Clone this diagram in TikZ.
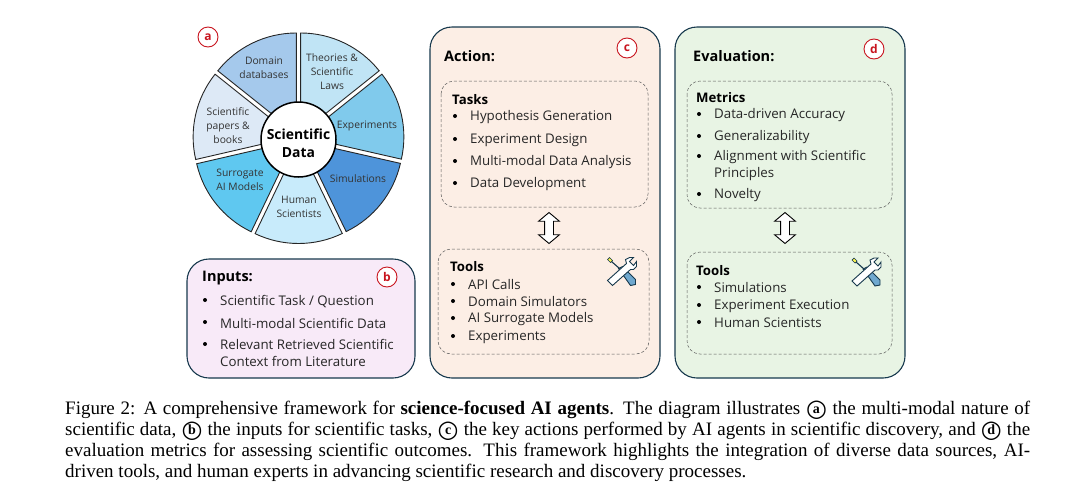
\documentclass[tikz,border=0pt]{standalone}
\usepackage{fontspec}
\setmainfont{Liberation Serif}
\newfontfamily\diagfont{Open Sans}
\newfontfamily\ringfont{DejaVu Sans}
\usetikzlibrary{shapes.arrows}
\definecolor{rimcol}{HTML}{17394D}
\definecolor{badgecol}{HTML}{C8141E}
\definecolor{inputcol}{HTML}{F8EAF8}
\definecolor{actioncol}{HTML}{FCEEE5}
\definecolor{evalcol}{HTML}{E8F4E4}
\definecolor{toolcol}{HTML}{6FA8CF}
\definecolor{domaincol}{HTML}{A5C9EC}
\definecolor{theorycol}{HTML}{C0E4F5}
\definecolor{expcol}{HTML}{80CAEC}
\definecolor{simcol}{HTML}{4E94DA}
\definecolor{humancol}{HTML}{C8EBFB}
\definecolor{surrcol}{HTML}{5FC8F0}
\definecolor{papercol}{HTML}{DDE9F6}
\newcommand{\letterring}[1]{\ooalign{\hfil\raisebox{1.3pt}{\fontsize{14}{14}\selectfont\bfseries #1}\hfil\crcr\raisebox{-1.5pt}{\ringfont\fontsize{24}{24}\selectfont\char"25CB}}}
\newcommand{\toolicon}[2]{%
\begin{scope}[shift={(#1,#2)}]
\draw[rimcol,line width=.9pt,fill=toolcol] (-3,-3) -- (1,-5) -- (14,8) -- (14,13) -- (9,14) -- cycle;
\draw[rimcol,line width=.9pt,fill=white] (-14,9) -- (5,-8) -- (4,-12) -- (8,-14) -- (12,-14) -- (8,-10) -- (12,-6) -- (15,-10) -- (15,-5) -- (12,-2) -- (9,-2) -- (-9,14) -- cycle;
\draw[rimcol,line width=1.1pt] (-2,-3) -- (-10,-10);
\draw[rimcol,line width=.7pt,fill=yellow!70!white] (-9,-11) -- (-11,-9) -- (-14,-12) -- (-12,-14) -- cycle;
\end{scope}}
\tikzset{
  panel/.style={draw=rimcol,line width=1.1pt,rounded corners=22pt},
  subpanel/.style={draw=black!65,densely dashed,line width=.5pt,rounded corners=13pt},
  badge/.style={circle,draw=badgecol,line width=.9pt,fill=white,inner sep=0pt,minimum size=20pt,text=badgecol,font=\diagfont\fontsize{12}{12}\selectfont\bfseries},
  headtxt/.style={anchor=west,inner sep=0pt,font=\diagfont\fontsize{14.5}{17}\selectfont\bfseries},
  subtxt/.style={anchor=west,inner sep=0pt,yshift=-1pt,font=\diagfont\fontsize{13.2}{15}\selectfont\bfseries},
  itemtxt/.style={anchor=west,inner sep=0pt,yshift=-1pt,text=black!85,font=\diagfont\fontsize{13.3}{17}\selectfont,align=left},
  dot/.style={circle,fill=black,inner sep=0pt,minimum size=4pt},
  wedgetxt/.style={inner sep=0pt,align=center,text=black!80,font=\diagfont\fontsize{10.3}{14}\selectfont},
  swaparrow/.style={double arrow,draw=black,fill=white,line width=.9pt,rotate=90,minimum height=31pt,minimum width=20pt,double arrow head extend=6pt,inner sep=0pt,double arrow tip angle=100}
}
\begin{document}
\begin{tikzpicture}[x=1pt,y=-1pt]
\useasboundingbox (0,0) rectangle (1080,501);
% wheel
\begin{scope}[shift={(298.5,138)},y=1pt]
\foreach \a/\b/\col in {90/141.4/domaincol,38.6/90/theorycol,-12.8/38.6/expcol,-64.2/-12.8/simcol,-115.6/-64.2/humancol,-167/-115.6/surrcol,141.4/193/papercol}
  \draw[black!85,line width=.9pt,fill=\col]
    ({5*cos((\a+\b)/2)},{5*sin((\a+\b)/2)}) -- ++({100.5*cos(\a)},{100.5*sin(\a)})
    arc [start angle=\a, end angle=\b, radius=100.5pt] -- cycle;
\end{scope}
\node[circle,draw=black,line width=1.5pt,fill=white,minimum size=75pt,inner sep=0pt,align=center,font=\diagfont\fontsize{13.9}{18}\selectfont\bfseries] (hub) at (298.5,139.5) {\rule{0pt}{18pt}Scientific\\Data};
\node[wedgetxt] (domain) at (264,68) {Domain\\databases};
\node[wedgetxt] (theories) at (332,72) {Theories \&\\Scientific\\Laws};
\node[wedgetxt] (experiments) at (367,126) {Experiments};
\node[wedgetxt] (simulations) at (358,179) {Simulations};
\node[wedgetxt] (humans) at (299,207) {Human\\Scientists};
\node[wedgetxt] (surrogate) at (240,179.5) {Surrogate\\AI Models};
\node[wedgetxt] (papers) at (228,126) {Scientific\\papers \&\\books};
\node[badge] (a) at (208,37) {a};
% inputs
\draw[panel,fill=inputcol] (187,259) rectangle (415,378);
\node[headtxt] (inputs) at (202,278) {Inputs:};
\node[badge] (b) at (387,277) {b};
\foreach \y/\t in {301/{Scientific Task / Question},322/Multi-modal Scientific Data,352/Relevant Retrieved Scientific\\Context from Literature} {
  \node[dot] at (205,{\y==352 ? 344 : (\y==301 ? 300 : \y)}) {};
  \node[itemtxt] at (220,\y) {\t};
}
% action
\draw[panel,fill=actioncol] (430,27) rectangle (660,378);
\node[headtxt] (action) at (444,56) {Action:};
\node[badge] (c) at (627,48) {c};
\draw[subpanel] (441,81) rectangle (648,207);
\node[subtxt] (tasks) at (452,99) {Tasks};
\foreach \y/\t in {116/Hypothesis Generation,139/Experiment Design,161/Multi-modal Data Analysis,183/Data Development} {
  \node[dot] at (455,\y) {};
  \node[itemtxt] at (470,\y) {\t};
}
\node[swaparrow] (actswap) at (549,228) {\rule{0pt}{8pt}};
\draw[subpanel] (438,249) rectangle (649,354);
\node[subtxt] (acttools) at (450,266) {Tools};
\foreach \y/\t in {284/API Calls,301/Domain Simulators,318/AI Surrogate Models,336/Experiments} {
  \node[dot] at (453,\y) {};
  \node[itemtxt] at (468,\y) {\t};
}
\toolicon{621.5}{271.5}
% evaluation
\draw[panel,fill=evalcol] (675,27) rectangle (905,378);
\node[headtxt] (evaluation) at (693,56) {Evaluation:};
\node[badge] (d) at (874,49) {d};
\draw[subpanel] (687,81) rectangle (892,208);
\node[subtxt] (metrics) at (696,97) {Metrics};
\foreach \y/\t in {114/Data-driven Accuracy,136/Generalizability,165/Alignment with Scientific\\Principles,194/Novelty} {
  \node[dot] at (699,{\y==165 ? 156 : \y}) {};
  \node[itemtxt] at (714,\y) {\t};
}
\node[swaparrow] (evalswap) at (785,228) {\rule{0pt}{8pt}};
\draw[subpanel] (687,252) rectangle (892,354);
\node[subtxt] (evaltools) at (696,270) {Tools};
\foreach \y/\t in {287/Simulations,305/Experiment Execution,322/Human Scientists} {
  \node[dot] at (699,\y) {};
  \node[itemtxt] at (714,\y) {\t};
}
\toolicon{866}{272}
% caption
\node[anchor=north west,inner sep=0pt,text width=965pt,align=justify,font=\fontsize{19}{21}\selectfont] (caption) at (65,401) {Figure 2: A comprehensive framework for \textbf{science-focused AI agents}. The diagram illustrates \letterring{a} the multi-modal nature of\linebreak scientific data, \letterring{b} the inputs for scientific tasks, \letterring{c} the key actions performed by AI agents in scientific discovery, and \letterring{d} the\linebreak evaluation metrics for assessing scientific outcomes. This framework highlights the integration of diverse data sources, AI-\linebreak driven tools, and human experts in advancing scientific research and discovery processes.};
\end{tikzpicture}
\end{document}
